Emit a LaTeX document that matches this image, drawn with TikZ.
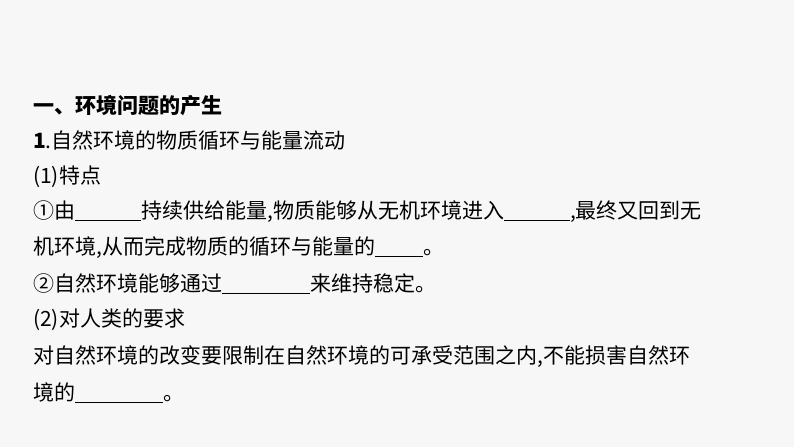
\documentclass[tikz,border=0pt]{standalone}
\usepackage{fontspec}
\setmainfont{Noto Sans CJK SC}
\tikzset{
    textline/.style={
        anchor=west,
        inner sep=0pt,
        font=\fontsize{21}{24}\selectfont
    }
}
\newcommand{\blank}[1]{\underline{\hspace{#1pt}}}

\begin{document}
\begin{tikzpicture}[x=1pt, y=-1pt]

% Background
\fill[gray!6] (0,0) rectangle (794,447);
\useasboundingbox (0,0) rectangle (794,447);

% Text lines
\node[textline, font=\fontsize{21}{24}\selectfont\bfseries] (head) at (33,106) {一、环境问题的产生};
\node[textline] (sub) at (33,141) {\textbf{1}.自然环境的物质循环与能量流动};
\node[textline] (feat) at (33,177) {(1)特点};
\node[textline] (pointa) at (33,212) {①由\blank{66}持续供给能量,物质能够从无机环境进入\blank{66},最终又回到无};
\node[textline] (pointb) at (33,248) {机环境,从而完成物质的循环与能量的\blank{48}。};
\node[textline] (pointc) at (33,284) {②自然环境能够通过\blank{88}来维持稳定。};
\node[textline] (req) at (33,320) {(2)对人类的要求};
\node[textline] (reqa) at (33,357) {对自然环境的改变要限制在自然环境的可承受范围之内,不能损害自然环};
\node[textline] (reqb) at (33,393) {境的\blank{88}。};

\end{tikzpicture}
\end{document}
